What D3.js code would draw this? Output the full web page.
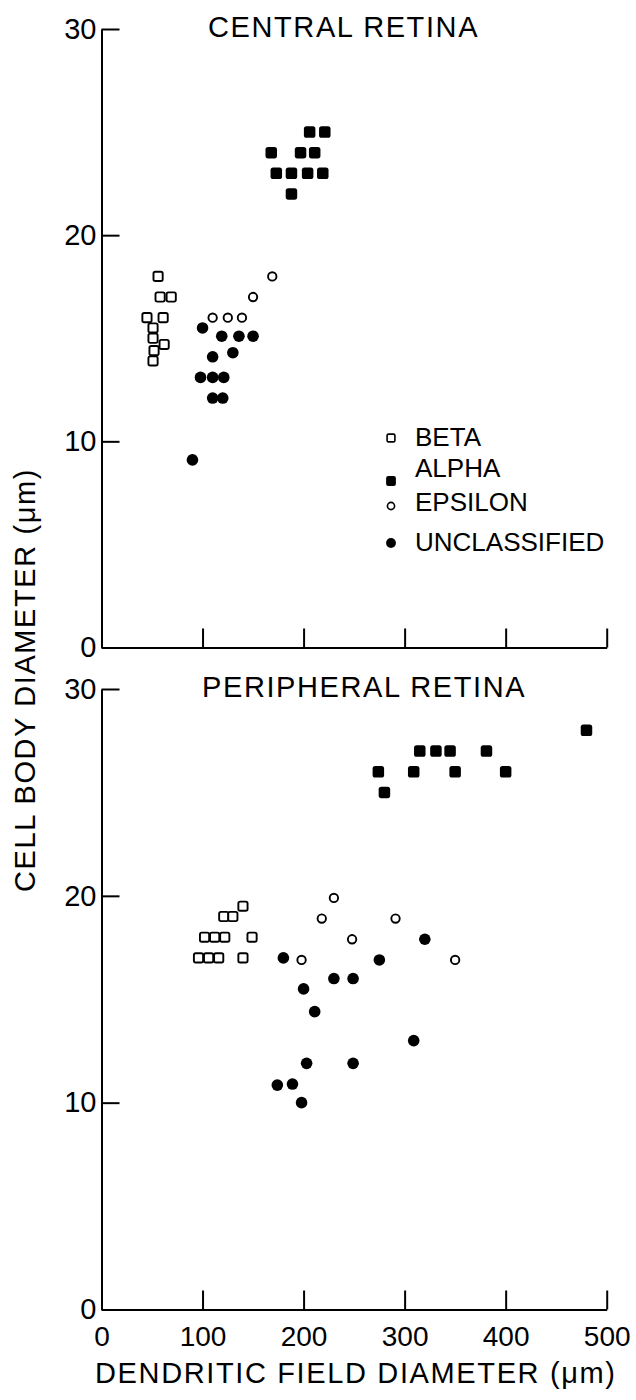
<!DOCTYPE html>
<html>
<head>
<meta charset="utf-8">
<script src="https://cdn.jsdelivr.net/npm/d3@7"></script>
<style>
  html, body { margin: 0; padding: 0; background: #fff; }
  svg { display: block; }
  text { font-family: "Liberation Sans", Arial, sans-serif; fill: #000; }
</style>
</head>
<body>
<svg id="chart" width="636" height="1400"></svg>
<script>
// ---------- data ----------
const xTickValues = [0, 100, 200, 300, 400, 500];
const yTickValues = [0, 10, 20, 30];
const panelTitles = ["CENTRAL RETINA", "PERIPHERAL RETINA"];
const xAxisTitle = "DENDRITIC FIELD DIAMETER (\u03bcm)";
const yAxisTitle = "CELL BODY DIAMETER (\u03bcm)";
const legendLabels = ["BETA", "ALPHA", "EPSILON", "UNCLASSIFIED"];

// central retina
const centralBetaX = [56, 58, 69, 45, 61, 51, 51, 62, 52, 51];
const centralBetaY = [18, 17, 17, 16, 16, 15.5, 15, 14.7, 14.4, 13.9];
const centralAlphaX = [168, 173, 188, 188, 197, 204, 206, 211, 219, 221];
const centralAlphaY = [24, 23, 23, 22, 24, 23, 25, 24, 23, 25];
const centralEpsilonX = [169, 150, 110, 125, 139];
const centralEpsilonY = [18, 17, 16, 16, 16];
const centralUnclassX = [100, 119, 136, 150, 110, 130, 98, 110, 121, 110, 120, 90];
const centralUnclassY = [15.5, 15.1, 15.1, 15.1, 14.1, 14.3, 13.1, 13.1, 13.1, 12.1, 12.1, 9.1];

// peripheral retina
const periphBetaX = [140, 121, 130, 102, 112, 122, 149, 96, 106, 116, 140];
const periphBetaY = [19.5, 19, 19, 18, 18, 18, 18, 17, 17, 17, 17];
const periphAlphaX = [315, 331, 345, 381, 274, 309, 350, 400, 280, 480];
const periphAlphaY = [27, 27, 27, 27, 26, 26, 26, 26, 25, 28];
const periphEpsilonX = [230, 218, 291, 248, 198, 350];
const periphEpsilonY = [19.9, 18.9, 18.9, 17.9, 16.9, 16.9];
const periphUnclassX = [180, 320, 275, 230, 249, 200, 211, 309, 203, 249, 174, 189, 198];
const periphUnclassY = [17, 17.9, 16.9, 16, 16, 15.5, 14.4, 13, 11.9, 11.9, 10.85, 10.9, 10];

// ---------- drawing ----------
const svg = d3.select("#chart");
svg.append("rect").attr("width", 636).attr("height", 1400).attr("fill", "#fff");

const x = d3.scaleLinear().domain([0, 500]).range([101.5, 606.7]);
const yTop = d3.scaleLinear().domain([0, 30]).range([647.5, 29]);
const yBot = d3.scaleLinear().domain([0, 30]).range([1309.5, 689]);

const zip = (xs, ys) => xs.map((v, i) => [v, ys[i]]);

function styleAxis(g, fontSize) {
  g.attr("font-family", null).attr("font-size", null);
  g.selectAll("path.domain").attr("stroke", "#000").attr("stroke-width", 2);
  g.selectAll(".tick line").attr("stroke", "#000").attr("stroke-width", 2);
  g.selectAll(".tick text").attr("font-size", fontSize).attr("fill", "#000");
}

function drawMarker(g, type, cx, cy, scale) {
  const s = scale || 1;
  if (type === "beta") {
    const w = 9.2 * s;
    g.append("rect").attr("x", cx - w / 2).attr("y", cy - w / 2).attr("width", w).attr("height", w)
      .attr("rx", 1.8 * s).attr("fill", "#fff").attr("stroke", "#000").attr("stroke-width", 1.9 * s);
  } else if (type === "alpha") {
    const w = 11.5 * s;
    g.append("rect").attr("x", cx - w / 2).attr("y", cy - w / 2).attr("width", w).attr("height", w)
      .attr("rx", 2.6 * s).attr("fill", "#000");
  } else if (type === "epsilon") {
    g.append("circle").attr("cx", cx).attr("cy", cy).attr("r", 4.2 * s)
      .attr("fill", "#fff").attr("stroke", "#000").attr("stroke-width", 1.9 * s);
  } else {
    g.append("circle").attr("cx", cx).attr("cy", cy).attr("r", 5.8 * s).attr("fill", "#000");
  }
}

function drawPanel(y, series, showXLabels) {
  const g = svg.append("g");
  // y axis
  const ya = g.append("g").attr("transform", `translate(${x(0)},0)`)
    .call(d3.axisLeft(y).tickValues(yTickValues).tickSizeInner(-18).tickSizeOuter(0).tickPadding(5));
  styleAxis(ya, 29);
  // x axis
  const xa = g.append("g").attr("transform", `translate(0,${y(0)})`)
    .call(d3.axisBottom(x).tickValues(showXLabels ? xTickValues : xTickValues.slice(1))
      .tickSizeInner(-19).tickSizeOuter(0).tickPadding(17)
      .tickFormat(showXLabels ? d3.format("d") : () => ""));
  styleAxis(xa, 28);

  const pts = g.append("g");
  series.forEach(s => {
    zip(s.xs, s.ys).forEach(([a, b]) => drawMarker(pts, s.type, x(a), y(b)));
  });
}

drawPanel(yTop, [
  { type: "alpha", xs: centralAlphaX, ys: centralAlphaY },
  { type: "unclass", xs: centralUnclassX, ys: centralUnclassY },
  { type: "beta", xs: centralBetaX, ys: centralBetaY },
  { type: "epsilon", xs: centralEpsilonX, ys: centralEpsilonY }
], false);

drawPanel(yBot, [
  { type: "alpha", xs: periphAlphaX, ys: periphAlphaY },
  { type: "unclass", xs: periphUnclassX, ys: periphUnclassY },
  { type: "beta", xs: periphBetaX, ys: periphBetaY },
  { type: "epsilon", xs: periphEpsilonX, ys: periphEpsilonY }
], true);

// panel titles
svg.append("text").attr("x", 208).attr("y", 37).attr("font-size", 29)
  .attr("letter-spacing", 1.6).text(panelTitles[0]);
svg.append("text").attr("x", 202).attr("y", 697).attr("font-size", 29)
  .attr("letter-spacing", 1.6).text(panelTitles[1]);

// axis titles
svg.append("text").attr("x", 95).attr("y", 1383).attr("font-size", 29)
  .attr("textLength", 520).attr("lengthAdjust", "spacing").text(xAxisTitle);
svg.append("text").attr("transform", "translate(35,680) rotate(-90)")
  .attr("text-anchor", "middle").attr("font-size", 29).attr("letter-spacing", 1.6)
  .text(yAxisTitle);

// legend
const legendTypes = ["beta", "alpha", "epsilon", "unclass"];
const legendMarkerY = [438, 481, 506, 543];
const legendTextY = [446, 477, 511, 551];
const lg = svg.append("g");
legendLabels.forEach((lab, i) => {
  drawMarker(lg, legendTypes[i], 391, legendMarkerY[i], 0.85);
  lg.append("text").attr("x", 415).attr("y", legendTextY[i]).attr("font-size", 26).text(lab);
});
</script>
</body>
</html>
